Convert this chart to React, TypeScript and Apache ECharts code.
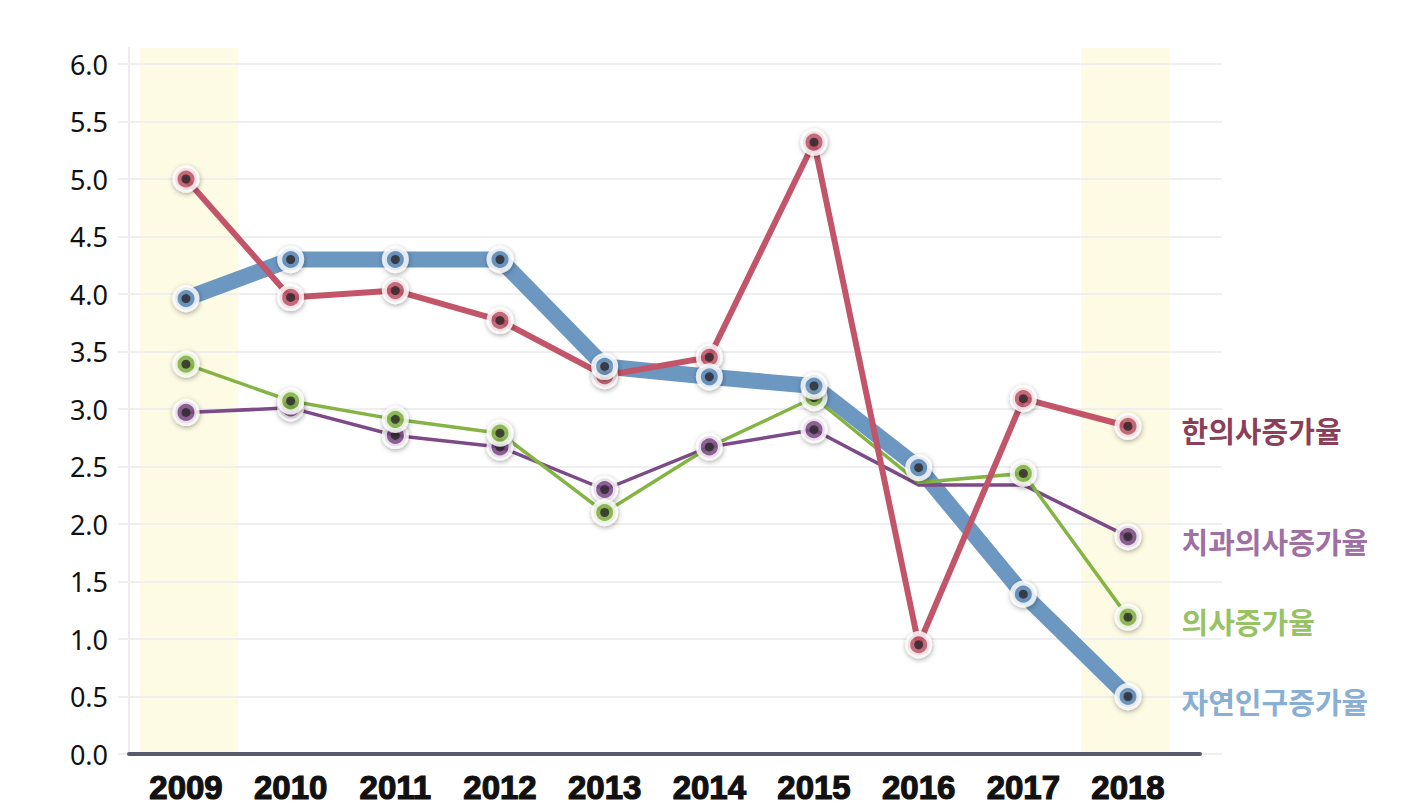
import React, { useEffect, useRef } from "react";
import * as echarts from "echarts";

// ---------- data ----------
const years = [2009, 2010, 2011, 2012, 2013, 2014, 2015, 2016, 2017, 2018];
const hanuisaRate = [5.0, 3.97, 4.03, 3.77, 3.29, 3.45, 5.32, 0.95, 3.09, 2.85]; // 한의사증가율
const dentistRate = [2.97, 3.01, 2.77, 2.67, 2.3, 2.67, 2.82, 2.34, 2.34, 1.89]; // 치과의사증가율
const doctorRate = [3.39, 3.07, 2.91, 2.79, 2.1, 2.67, 3.1, 2.36, 2.44, 1.19]; // 의사증가율
const populationRate = [3.96, 4.3, 4.3, 4.3, 3.37, 3.28, 3.2, 2.49, 1.39, 0.5]; // 자연인구증가율
const dentistNoMarker = [2016, 2017];
const doctorNoMarker = [2014, 2016];
const highlightBands = [
  [2008.56, 2009.5],
  [2017.55, 2018.4],
];
const yMin = 0;
const yMax = 6;
const yStep = 0.5;

type SeriesDef = {
  name: string;
  values: number[];
  noMarker: number[];
  color: string;
  labelColor: string;
  width: number;
  zLine: number;
  zMark: number;
};

const defs: SeriesDef[] = [
  { name: "자연인구증가율", values: populationRate, noMarker: [], color: "#6b97c1", labelColor: "#6a99c8", width: 16, zLine: 2, zMark: 16 },
  { name: "치과의사증가율", values: dentistRate, noMarker: dentistNoMarker, color: "#7d4a88", labelColor: "#844a89", width: 3.5, zLine: 3, zMark: 10 },
  { name: "의사증가율", values: doctorRate, noMarker: doctorNoMarker, color: "#84b443", labelColor: "#7bb23c", width: 3.5, zLine: 4, zMark: 12 },
  { name: "한의사증가율", values: hanuisaRate, noMarker: [], color: "#c25569", labelColor: "#6c0a2b", width: 6, zLine: 5, zMark: 14 },
];

export default function App() {
  const ref = useRef<HTMLDivElement>(null);

  useEffect(() => {
    if (!ref.current) return;
    const chart = echarts.init(ref.current, undefined, { renderer: "svg" });

    const series: any[] = [];
    defs.forEach((d, si) => {
      const lineData = years.map((y, i) => [y, d.values[i]]);
      const line: any = {
        type: "line",
        name: d.name,
        xAxisIndex: 0,
        yAxisIndex: 0,
        data: lineData,
        symbol: "none",
        z: d.zLine,
        lineStyle: { color: d.color, width: d.width, cap: "round", join: "round" },
        silent: true,
      };
      if (si === 0) {
        line.markArea = {
          silent: true,
          z: -1,
          itemStyle: { color: "#fefbe4" },
          data: highlightBands.map((b) => [{ xAxis: b[0] }, { xAxis: b[1] }]),
        };
      }
      series.push(line);

      const markPts = years
        .map((y, i) => ({ y, v: d.values[i] }))
        .filter((p) => !d.noMarker.includes(p.y));
      const lastYear = years[years.length - 1];
      series.push({
        type: "scatter",
        xAxisIndex: 0,
        yAxisIndex: 0,
        symbol: "circle",
        symbolSize: 22,
        z: d.zMark,
        silent: true,
        itemStyle: {
          color: d.color,
          borderColor: "#ffffff",
          borderWidth: 5,
          shadowBlur: 5,
          shadowColor: "rgba(0,0,0,0.4)",
          shadowOffsetX: 0.5,
          shadowOffsetY: 1.5,
        },
        data: markPts.map((p) =>
          p.y === lastYear
            ? {
                value: [p.y, p.v],
                label: {
                  show: true,
                  position: "right",
                  distance: 40,
                  offset: [0, 4],
                  formatter: d.name,
                  color: d.labelColor,
                  fontSize: 29,
                  fontWeight: "bold",
                  fontFamily: "'Noto Sans CJK KR', sans-serif",
                },
              }
            : { value: [p.y, p.v] }
        ),
      });
      series.push({
        type: "scatter",
        xAxisIndex: 0,
        yAxisIndex: 0,
        symbol: "circle",
        symbolSize: 9,
        z: d.zMark + 1,
        silent: true,
        itemStyle: { color: "#2b2629" },
        data: markPts.map((p) => [p.y, p.v]),
      });
    });

    const option: any = {
      animation: false,
      backgroundColor: "#ffffff",
      grid: [
        { left: 81.33, right: 183.33, top: 48, bottom: 56 },
        { left: 118, right: 194, top: 64, bottom: 56 },
        { left: 129, right: 216, top: 48, bottom: 56 },
      ],
      xAxis: [
        {
          type: "value",
          gridIndex: 0,
          min: 2008,
          max: 2019,
          interval: 1,
          axisLine: { show: false },
          axisTick: { show: false },
          splitLine: { show: false },
          axisLabel: {
            margin: 17,
            color: "#111111",
            fontSize: 33,
            fontWeight: "bold",
            fontFamily: "'Liberation Sans', Arial, sans-serif",
            textBorderColor: "#111111",
            textBorderWidth: 1.2,
            formatter: (v: number) => (years.includes(v) ? String(v) : ""),
          },
        },
        { type: "value", gridIndex: 1, show: false, min: 0, max: 1 },
        {
          type: "value",
          gridIndex: 2,
          min: 0,
          max: 1,
          z: 20,
          axisLine: { show: true, lineStyle: { color: "#575b6d", width: 4 } },
          axisTick: { show: false },
          axisLabel: { show: false },
          splitLine: { show: false },
        },
      ],
      yAxis: [
        {
          type: "value",
          gridIndex: 0,
          min: yMin,
          max: (810 - 56 - 48) / ((810 - 56 - 64) / (yMax - yMin)),
          show: false,
          splitLine: { show: false },
        },
        {
          type: "value",
          gridIndex: 1,
          min: yMin,
          max: yMax,
          interval: yStep,
          z: 1.5,
          axisLine: { show: false },
          axisTick: { show: false },
          axisLabel: {
            margin: 10,
            color: "#111111",
            fontSize: 27,
            fontFamily: "'Noto Sans', sans-serif",
            formatter: (v: number) => v.toFixed(1),
          },
          splitLine: { show: true, lineStyle: { color: "#efefef", width: 2 } },
        },
        {
          type: "value",
          gridIndex: 2,
          min: 0,
          max: 1,
          axisLine: { show: true, lineStyle: { color: "#ececec", width: 2 } },
          axisTick: { show: false },
          axisLabel: { show: false },
          splitLine: { show: false },
        },
      ],
      series,
    };

    chart.setOption(option);
    return () => chart.dispose();
  }, []);

  return (
    <div
      ref={ref}
      style={{ position: "absolute", left: 0, top: 0, width: 1416, height: 810 }}
    />
  );
}
